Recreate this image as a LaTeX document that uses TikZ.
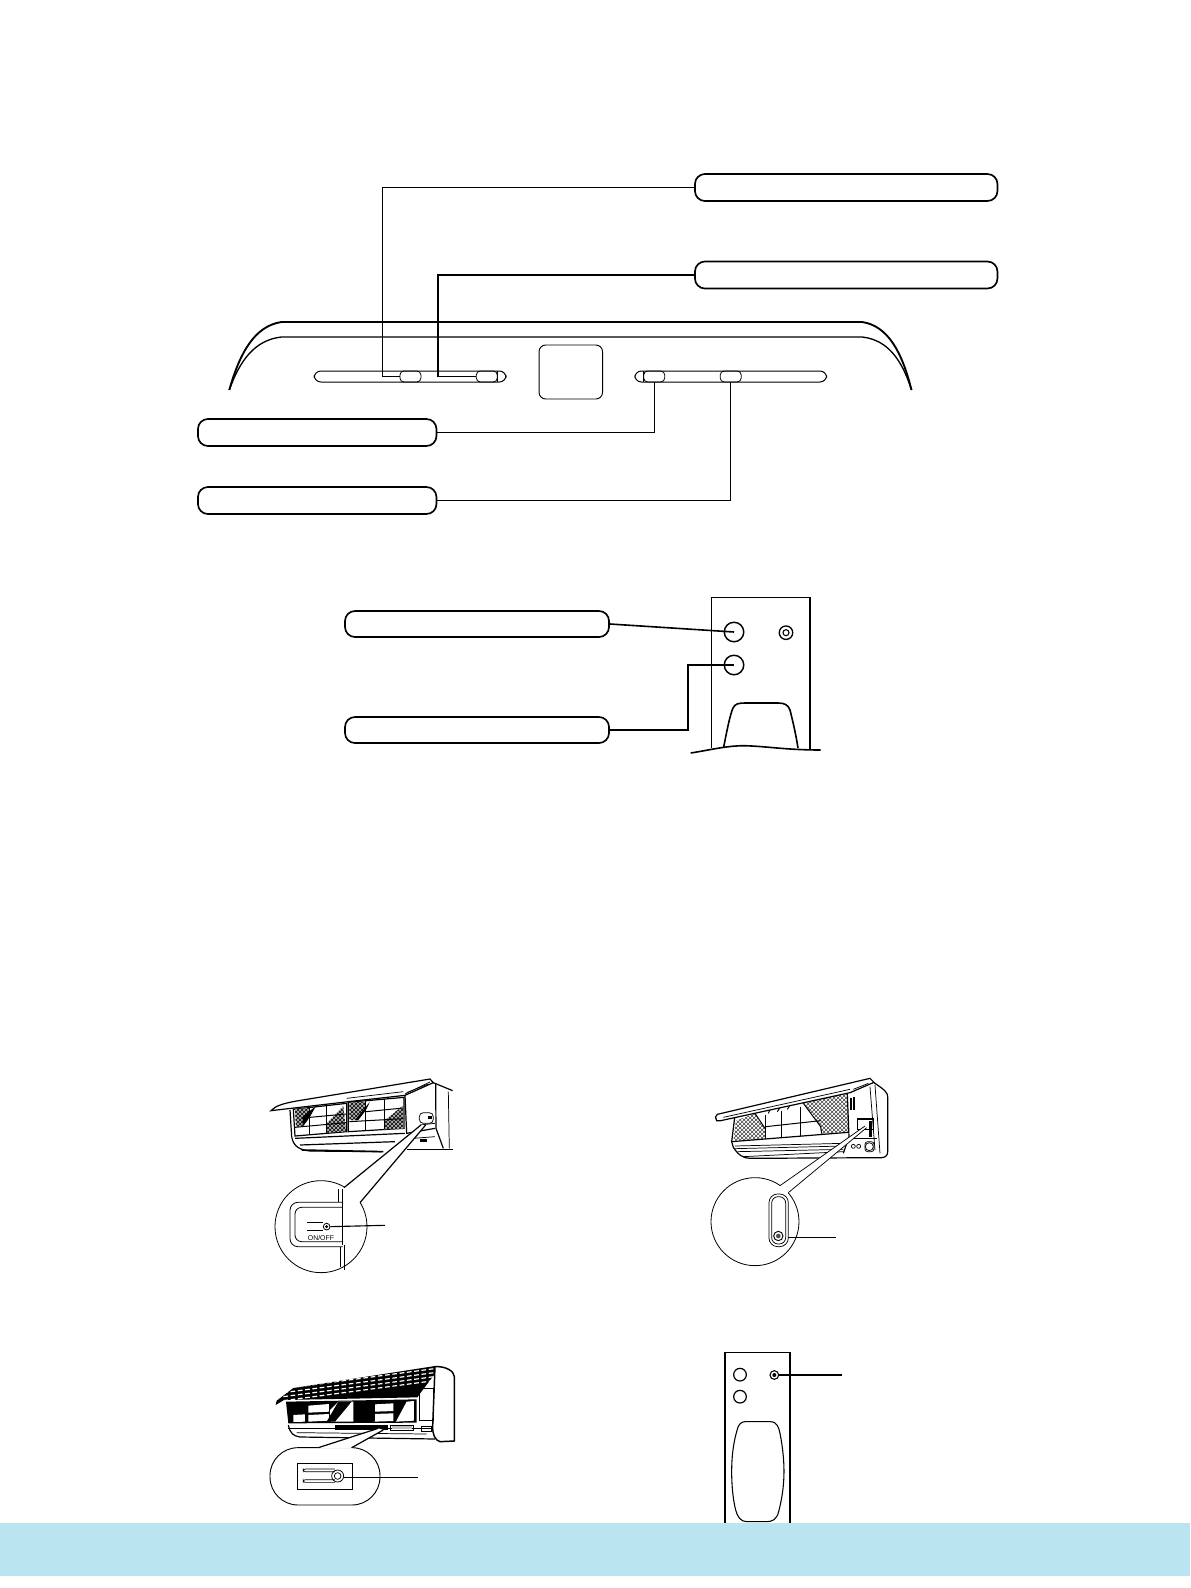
\documentclass[tikz,border=0pt]{standalone}
\usepackage{fontspec}
\setmainfont{Liberation Sans}
\usetikzlibrary{patterns}
\definecolor{bandblue}{HTML}{BAE5F0}
\tikzset{
  pill/.style={draw=black,line width=1.25pt,rounded corners=7.5pt,inner sep=0pt,fill=white},
  pillbig/.style={pill,minimum width=302.5*0.75pt,minimum height=27*0.75pt},
  pillmid/.style={pill,minimum width=238.5*0.75pt,minimum height=27*0.75pt},
  pillrem/.style={pill,minimum width=264*0.75pt,minimum height=26*0.75pt},
  conn/.style={draw=black,line width=0.85pt},
  connthick/.style={draw=black,line width=1.2pt},
  outline/.style={draw=black,line width=0.75pt},
  slider/.style={draw=black,line width=0.6pt,rounded corners=3pt,inner sep=0pt,minimum width=21*0.75pt,minimum height=11*0.75pt},
  remotebtn/.style={draw=black,line width=1.1pt,circle,inner sep=0pt,minimum size=19.5*0.75pt},
  dot/.style={draw=black,line width=1pt,circle,inner sep=0pt},
  thin/.style={draw=black,line width=0.55pt},
  grid/.style={draw=black,line width=0.75pt},
  thick2/.style={draw=black,line width=0.9pt},
  mesh/.style={pattern=crosshatch,pattern color=black},
  meshlight/.style={pattern=crosshatch,pattern color=black!75},
}
\begin{document}
\begin{tikzpicture}[x=0.75pt,y=-0.75pt]
\useasboundingbox (0,0) rectangle (1190,1588);
% ---------- front panel --------------
\draw[draw=black,line width=1.4pt] (229.3,390) .. controls (240,352) and (255,326) .. (281.4,322) -- (862.2,322) .. controls (888,326) and (902,352) .. (911.5,390);
\draw[draw=black,line width=1pt] (229.3,390) .. controls (240,360) and (255,340) .. (281.4,337) -- (862.2,337) .. controls (888,340) and (902,360) .. (911.5,390);
\draw[outline,rounded corners=5pt] (314.2,371) rectangle (506,382);
\draw[outline] (497.3,371) -- (497.3,382);
\draw[outline,rounded corners=5pt] (634.8,371) rectangle (826.6,382);
\draw[outline] (643.5,371) -- (643.5,382);
\node[draw=black,line width=0.7pt,rounded corners=5pt,inner sep=0pt,minimum width=63.5*0.75pt,minimum height=54*0.75pt] (display) at (570.8,372) {};
\node[slider] (b1) at (410.4,376.5) {};
\node[slider] (b2) at (486.8,376.5) {};
\node[slider] (b3) at (654.2,376.5) {};
\node[slider] (b4) at (730.7,376.5) {};
\node[pillbig] (pa) at (846.2,187.5) {};
\node[pillbig] (pb) at (846.2,275) {};
\node[pillmid] (pc) at (317.2,432.5) {};
\node[pillmid] (pd) at (317.2,500.5) {};
\coordinate (ca) at (382.2,376.5);
\coordinate (cb) at (438,376.5);
\draw[conn] (pa.west) -| (ca) -- (b1.west);
\draw[conn] (pb.west) -| (cb) -- (b2.west);
\draw[conn] (pc.east) -| (b3.south);
\draw[conn] (pd.east) -| (b4.south);
% ---------- remote top --------------
\draw[draw=black,line width=1.1pt] (711.3,748) -- (711.3,597.3) -- (810,597.3) -- (810,749);
\node[remotebtn] (c1) at (734,632) {};
\node[remotebtn] (c2) at (734,665) {};
\node[dot,minimum size=13.5*0.75pt] (c3) at (786,632.7) {};
\node[dot,line width=0.8pt,minimum size=6*0.75pt] (c3i) at (786,632.7) {};
\draw[connthick] (723.7,747) .. controls (727,730) and (730,715) .. (733,708) .. controls (735,704) and (738,703) .. (745,703) -- (778,703) .. controls (785,703) and (788,705) .. (790,710) .. controls (793,722) and (796,735) .. (798,748);
\draw[connthick] (690.7,753) .. controls (710,750) and (725,746) .. (743,745.7) .. controls (765,746) and (785,750) .. (820.7,750);
\node[pillrem] (pe) at (477,624) {};
\node[pillrem] (pf) at (477,730) {};
\coordinate (cf) at (688,665);
\draw[connthick] (pe.east) -- (c1.center);
\draw[connthick] (pf.east) -| (cf) -- (c2.center);
% ---------- unit 1 --------------
\begin{scope}[shift={(260,1070)},scale=0.3333]
\draw[thick2] (90,120) -- (95,200) .. controls (100,230) and (120,240) .. (150,243) -- (365,245);
\draw[thick2] (105,205) -- (435,190);
\draw[thick2] (120,225) -- (405,215);
\draw[line width=1.2pt] (125,240) -- (370,245);
\draw[thick2] (520,38) -- (578,62);
\draw[thick2] (527,42) -- (528,175) -- (550,235);
\draw[thick2] (435,75) -- (440,190) -- (525,175);
\draw[thick2] (440,238) -- (578,238);
\draw[thin] (460,205) -- (525,200);
\draw[thin] (565,65) -- (568,235);
\draw[thin,rounded corners=3pt] (478,128) rectangle (520,160);
\fill (505,138) rectangle (515,148);
\draw[thin] (480,165) -- (525,160);
\fill (480,208) rectangle (500,216);
% filters
\draw[thick2] (100,118) -- (260,100) -- (260,185) -- (105,198) -- cycle;
\draw[thick2] (265,97) -- (432,82) -- (432,175) -- (265,185) -- cycle;
\fill[black!30] (105,118) -- (150,113) -- (150,140) -- (128,170) -- (108,170) -- cycle;
\fill[mesh] (105,118) -- (150,113) -- (150,140) -- (128,170) -- (108,170) -- cycle;
\fill (128,140) -- (168,108) -- (150,140) -- (128,170) -- cycle;
\fill[black!30] (200,160) -- (250,108) -- (258,184) -- (200,188) -- cycle;
\fill[mesh] (200,160) -- (250,108) -- (258,184) -- (200,188) -- cycle;
\fill[black!30] (268,98) -- (318,94) -- (318,115) -- (290,150) -- (268,150) -- cycle;
\fill[mesh] (268,98) -- (318,94) -- (318,115) -- (290,150) -- (268,150) -- cycle;
\fill (285,150) -- (330,95) -- (318,120) -- (295,150) -- cycle;
\fill[black!30] (375,150) -- (428,108) -- (430,176) -- (372,178) -- cycle;
\fill[mesh] (375,150) -- (428,108) -- (430,176) -- (372,178) -- cycle;
\draw[grid] (150,112) -- (150,192);
\draw[grid] (200,105) -- (200,188);
\draw[grid] (105,172) -- (258,158);
\draw[grid] (150,142) -- (258,132);
\draw[grid] (318,92) -- (318,180);
\draw[grid] (373,88) -- (373,178);
\draw[grid] (268,155) -- (430,146);
\draw[grid] (318,125) -- (430,114);
% flap
\draw[thick2,fill=white] (33,122) .. controls (45,108) and (70,100) .. (110,93) -- (510,27) -- (520,38) -- (435,76) -- (265,95) -- cycle;
\draw[thin] (260,85) -- (430,65);
\draw[thin] (435,72) -- (510,36);
\draw[thin] (440,68) -- (505,42);
% loupe
\node[circle,draw=black,line width=0.6pt,fill=white,inner sep=0pt,minimum size=276*0.25pt] (l1) at (183,470) {};
\coordinate (t1a) at (483,165);
\coordinate (t1b) at (497,165);
\fill[white] (252,353) -- (t1a) -- (t1b) -- (300,398) -- (260,440) -- cycle;
\coordinate (q1a) at (252,353);
\coordinate (q1b) at (300,398);
\draw[thick2] (q1a) -- (t1a);
\draw[thick2] (q1b) -- (t1b);
\draw[thin] (235,358) -- (235,397);
\draw[thin] (248,356) -- (248,525);
\draw[thin] (242,530) -- (242,592);
\draw[thin] (252,525) -- (252,600);
\draw[line width=0.6pt,rounded corners=6pt] (248,397) -- (90,397) -- (90,530) -- (248,530);
\draw[line width=0.6pt,rounded corners=5pt] (248,412) -- (105,412) -- (105,515) -- (248,515);
\node[circle,draw=black,line width=0.6pt,inner sep=0pt,minimum size=5pt] (k1) at (200,470) {};
\fill (200,470) circle (5);
\draw[thin] (142,457) -- (190,457);
\draw[thin] (142,482) -- (190,482);
\coordinate (e1) at (375,466);
\draw[conn] (k1.east) -- (e1);
\node[font=\fontsize{5.2}{6}\selectfont,inner sep=0pt] (txt) at (183,505) {ON/OFF};
\end{scope}
% ---------- unit 2 --------------
\begin{scope}[shift={(700,1070)},scale=0.3333]
\draw[thick2] (105,135) -- (95,215) -- (100,232) .. controls (115,255) and (130,265) .. (150,265) -- (545,263) .. controls (558,262) and (563,255) .. (563,245) -- (563,80) .. controls (563,68) and (555,60) .. (522,38);
\fill[meshlight] (108,152) -- (165,130) -- (197,178) -- (197,206) -- (100,212) -- cycle;
\fill[meshlight] (310,97) -- (442,72) -- (445,185) -- (365,191) -- (362,170) -- cycle;
\draw[grid] (197,135) -- (197,206);
\draw[grid] (245,122) -- (245,203);
\draw[grid] (302,110) -- (302,198);
\draw[grid] (197,170) -- (362,152);
\draw[grid] (165,130) -- (197,178);
\draw[grid] (310,100) -- (362,170) -- (365,191);
\draw[thick2] (95,215) -- (445,187);
\draw[grid] (205,130) -- (215,108);
\draw[grid] (232,125) -- (245,105);
\draw[grid] (262,118) -- (274,100);
\draw[thin] (105,228) -- (430,220);
\draw[thin] (105,236) -- (432,228);
\draw[thin] (112,245) -- (430,238);
\draw[thin] (130,260) -- (430,245);
\draw[thick2] (442,72) -- (447,200) -- (430,250);
\draw[thin] (445,205) -- (530,205);
\draw[thin] (510,50) -- (525,240);
\draw[thin] (525,45) -- (540,250);
\draw[thick2] (472,147) rectangle (520,178);
\fill (506,152) rectangle (516,200);
\draw[thick2] (453,85) -- (453,120) (462,82) -- (462,120);
\draw[thin,rounded corners=2pt] (495,215) rectangle (522,245);
\draw[thin] (508,230) circle (12);
\draw[thin] (460,229) circle (6);
\draw[thin] (476,229) circle (6);
% flap
\draw[thick2,fill=white] (50,152) .. controls (44,146) and (46,136) .. (52,133) -- (510,25) -- (522,37) -- (450,68) -- (62,152) -- cycle;
\draw[thin] (70,142) -- (450,58);
\draw[thin] (460,58) -- (505,40);
% loupe
\node[circle,draw=black,line width=0.6pt,fill=white,inner sep=0pt,minimum size=264*0.25pt] (l2) at (165,455) {};
\coordinate (t2a) at (495,168);
\coordinate (t2b) at (500,173);
\fill[white] (240,347) -- (t2a) -- (t2b) -- (265,368) -- (230,400) -- cycle;
\draw[thin] (240,347) -- (t2a);
\draw[thin] (265,368) -- (t2b);
\draw[thin,rounded corners=6.5pt] (207,530) rectangle (265,372);
\draw[thin,rounded corners=4.8pt] (215,522) rectangle (257,380);
\node[circle,draw=black,line width=0.7pt,inner sep=0pt,minimum size=7pt] (k2) at (235,498) {};
\fill[black!70] (235,498) circle (7);
\coordinate (e2) at (408,502);
\coordinate (s2) at (263,502);
\draw[conn] (s2) -- (e2);
\end{scope}
% ---------- unit 3 --------------
\begin{scope}[shift={(260,1360)},scale=0.3333]
\draw[thick2] (85,195) .. controls (90,220) and (100,228) .. (120,231) -- (525,237);
\draw[thick2] (85,205) -- (520,205);
\draw[thin] (110,218) -- (500,222);
\fill (78,125) -- (470,118) -- (470,188) -- (85,190) -- cycle;
\fill[white] (145,137) -- (207,132) -- (207,155) -- (145,158) -- cycle;
\fill[white] (145,165) -- (207,162) -- (207,182) -- (145,185) -- cycle;
\fill[white] (100,165) -- (135,163) -- (135,185) -- (100,186) -- cycle;
\fill[white] (345,133) -- (400,130) -- (400,153) -- (345,155) -- cycle;
\fill[white] (340,162) -- (400,160) -- (400,183) -- (340,185) -- cycle;
\fill[white] (408,185) -- (440,125) -- (462,123) -- (462,182) -- cycle;
\fill[white] (210,150) -- (235,125) -- (280,125) -- (280,185) -- (212,185) -- cycle;
\fill (235,125) -- (275,125) -- (225,185) -- (200,185) -- cycle;
\fill (300,185) -- (330,125) -- (345,125) -- (345,185) -- cycle;
\draw[white,line width=0.8pt] (272,130) -- (272,180);
\fill (225,195) rectangle (385,210);
\draw[thin] (390,195) rectangle (460,210);
\fill[black!25] (395,198) rectangle (455,207);
\draw[thin] (485,200) rectangle (515,215);
% roof
\begin{scope}
\path[clip] (47,135) -- (50,122) -- (100,84) -- (525,18) -- (532,35) -- (472,112) -- (72,120) -- cycle;
\fill (40,10) rectangle (540,140);
\foreach \k in {0,12,...,108} {
  \draw[white,line width=0.9pt,dash pattern=on 3.5pt off 2pt] (70,{122-\k}) -- (530,{61-\k});
}
\end{scope}
\draw[white,line width=0.9pt] (480,105) -- (525,45);
% end cap
\draw[line width=1.1pt,fill=white] (525,20) .. controls (560,18) and (583,35) .. (583,50) -- (583,243) -- (540,245) .. controls (525,240) and (518,225) .. (518,200) -- (522,100) -- cycle;
\draw[thin] (478,85) -- (520,85) -- (520,182) -- (478,182) -- cycle;
% loupe
\node[draw=black,line width=0.7pt,fill=white,rounded corners=21pt,inner sep=0pt,minimum width=330*0.25pt,minimum height=172*0.25pt] (l3) at (195,349) {};
\coordinate (t3a) at (355,205);
\coordinate (t3b) at (370,210);
\fill[white] (175,261) -- (t3a) -- (t3b) -- (275,261) -- (275,266) -- (175,266) -- cycle;
\draw[thick2] (175,263) -- (t3a);
\draw[thick2] (275,263) -- (t3b);
\draw[thin] (111,310) rectangle (277,388);
\draw[line width=0.5pt,rounded corners=1.5pt] (225,327) -- (130,327) -- (130,335) -- (225,335);
\draw[line width=0.5pt,rounded corners=1.5pt] (225,359) -- (130,359) -- (130,367) -- (225,367);
\node[circle,draw=black,line width=0.6pt,inner sep=0pt,minimum size=9pt] (k3) at (233,348) {};
\draw[thin] (233,348) circle (10);
\coordinate (e3) at (473,352);
\coordinate (s3) at (252,352);
\draw[conn] (s3) -- (e3);
\end{scope}
% ---------- unit 4 --------------
\begin{scope}[shift={(700,1340)},scale=0.3333]
\draw[draw=black,line width=0.95pt] (75,560) -- (75,37) -- (270,37) -- (270,560);
\node[remotebtn,line width=0.9pt,minimum size=9.5pt] (r1) at (120,104) {};
\node[remotebtn,line width=0.9pt,minimum size=9.5pt] (r2) at (120,170) {};
\node[dot,line width=0.8pt,minimum size=6.5pt] (r3) at (223,105) {};
\fill (223,105) circle (6);
\coordinate (e4) at (425,105);
\draw[conn] (r3.east) -- (e4);
\draw[draw=black,line width=0.8pt] (135,245) -- (210,245) .. controls (232,245) and (236,262) .. (240,280) .. controls (248,320) and (252,360) .. (252,395) .. controls (252,440) and (245,480) .. (236,515) .. controls (230,540) and (215,545) .. (200,545) -- (140,545) .. controls (122,545) and (112,530) .. (107,510) .. controls (98,475) and (95,430) .. (95,395) .. controls (95,350) and (100,310) .. (110,275) .. controls (114,255) and (122,245) .. (135,245) -- cycle;
\end{scope}
% ---------- band --------------
\fill[bandblue] (0,1523) rectangle (1190,1576);
\end{tikzpicture}
\end{document}
